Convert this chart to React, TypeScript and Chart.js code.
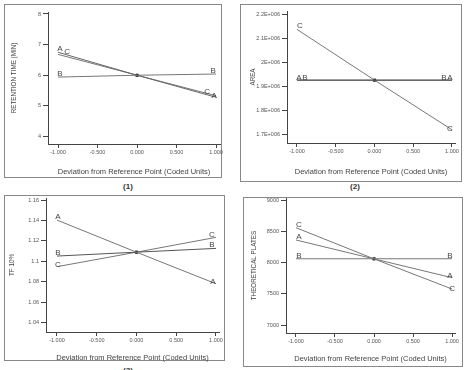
import React, { useEffect, useRef } from "react";
import { Chart, registerables } from "chart.js";
Chart.register(...registerables);

const W = 466;
const H = 370;
const FONT = 'Arial, "Liberation Sans", sans-serif';

// shared x axis
const xPoints = [-1, 0, 1];
const xTickValues = [-1, -0.5, 0, 0.5, 1];
const xTickLabels = ["-1.000", "-0.500", "0.000", "0.500", "1.000"];
const xAxisTitle = "Deviation from Reference Point (Coded Units)";

// Panel 1: retention time
const rtTitle = "RETENTION TIME (MIN)";
const rtA = [6.75, 6.0, 5.28];
const rtB = [5.94, 6.0, 6.04];
const rtC = [6.68, 6.0, 5.33];
const rtCenter = 6.0;
const rtTicks = [4, 5, 6, 7, 8];
const rtTickLabels = ["4", "5", "6", "7", "8"];

// Panel 2: area
const areaTitle = "AREA";
const areaA = [1925000, 1925000, 1925000];
const areaB = [1925000, 1925000, 1925000];
const areaC = [2136000, 1925000, 1719000];
const areaCenter = 1925000;
const areaTicks = [1700000, 1800000, 1900000, 2000000, 2100000, 2200000];
const areaTickLabels = ["1.7E+006", "1.8E+006", "1.9E+006", "2E+006", "2.1E+006", "2.2E+006"];

// Panel 3: tailing factor
const tfTitle = "TF 10%";
const tfA = [1.1404, 1.109, 1.0781];
const tfB = [1.1052, 1.109, 1.1127];
const tfC = [1.0948, 1.109, 1.1235];
const tfCenter = 1.109;
const tfTicks = [1.04, 1.06, 1.08, 1.1, 1.12, 1.14, 1.16];
const tfTickLabels = ["1.04", "1.06", "1.08", "1.1", "1.12", "1.14", "1.16"];

// Panel 4: theoretical plates
const tpTitle = "THEORETICAL PLATES";
const tpA = [8360, 8058, 7757];
const tpB = [8060, 8060, 8060];
const tpC = [8557, 8058, 7576];
const tpCenter = 8058;
const tpTicks = [7000, 7500, 8000, 8500, 9000];
const tpTickLabels = ["7000", "7500", "8000", "8500", "9000"];

type Series = { letter: string; values: number[]; color: string; lOff: number[]; rOff: number[] };

type PanelCfg = {
  name: string;
  box: { x: number; y: number; w: number; h: number };
  area: { l: number; t: number; r: number; b: number };
  xMin: number; xMax: number; yMin: number; yMax: number;
  yTitle: string; yTitleX: number; yTitleSize: number;
  xTitleY: number;
  yTicks: number[]; yTickLabels: string[];
  series: Series[];
  center: number;
  label: { x: number; y: number };
};

const panels: PanelCfg[] = [
  {
    name: "(1)",
    box: { x: 4, y: 4, w: 218, h: 174 },
    area: { l: 48, t: 12, r: 220, b: 144 },
    xMin: -1.127, xMax: 1.05, yMin: 3.755, yMax: 8.065,
    yTitle: rtTitle, yTitleX: 14, yTitleSize: 6.3,
    xTitleY: 172,
    yTicks: rtTicks, yTickLabels: rtTickLabels,
    series: [
      { letter: "A", values: rtA, color: "#666", lOff: [2, -1], rOff: [-2, 1] },
      { letter: "C", values: rtC, color: "#777", lOff: [9, 0], rOff: [-9, -2] },
      { letter: "B", values: rtB, color: "#777", lOff: [2, -1], rOff: [-3, -1] },
    ],
    center: rtCenter,
    label: { x: 128, y: 182 },
  },
  {
    name: "(2)",
    box: { x: 240, y: 4, w: 222, h: 178 },
    area: { l: 287, t: 11, r: 455, b: 143 },
    xMin: -1.129, xMax: 1.039, yMin: 1663800, yMax: 2212500,
    yTitle: areaTitle, yTitleX: 253, yTitleSize: 6.3,
    xTitleY: 172,
    yTicks: areaTicks, yTickLabels: areaTickLabels,
    series: [
      { letter: "A", values: areaA, color: "#555", lOff: [2, 0], rOff: [-2, 0] },
      { letter: "B", values: areaB, color: "#555", lOff: [8, 0], rOff: [-8, 0] },
      { letter: "C", values: areaC, color: "#777", lOff: [3, -1], rOff: [-2, 1] },
    ],
    center: areaCenter,
    label: { x: 355, y: 182 },
  },
  {
    name: "(3)",
    box: { x: 4, y: 195, w: 221, h: 166 },
    area: { l: 46, t: 198, r: 219, b: 332 },
    xMin: -1.138, xMax: 1.038, yMin: 1.0309, yMax: 1.162,
    yTitle: tfTitle, yTitleX: 12, yTitleSize: 6.3,
    xTitleY: 358,
    yTicks: tfTicks, yTickLabels: tfTickLabels,
    series: [
      { letter: "A", values: tfA, color: "#777", lOff: [1, -1], rOff: [-3, 0] },
      { letter: "B", values: tfB, color: "#555", lOff: [1, -1], rOff: [-4, -1] },
      { letter: "C", values: tfC, color: "#777", lOff: [1, 0], rOff: [-4, 0] },
    ],
    center: tfCenter,
    label: { x: 128, y: 366 },
  },
  {
    name: "(4)",
    box: { x: 243, y: 197, w: 220, h: 170 },
    area: { l: 286, t: 198, r: 455, b: 333 },
    xMin: -1.128, xMax: 1.038, yMin: 6872, yMax: 9032,
    yTitle: tpTitle, yTitleX: 254, yTitleSize: 6.3,
    xTitleY: 359,
    yTicks: tpTicks, yTickLabels: tpTickLabels,
    series: [
      { letter: "C", values: tpC, color: "#777", lOff: [3, -1], rOff: [0, 2] },
      { letter: "A", values: tpA, color: "#777", lOff: [3, -1], rOff: [-2, 0] },
      { letter: "B", values: tpB, color: "#777", lOff: [3, -1], rOff: [-2, -1] },
    ],
    center: tpCenter,
    label: { x: 358, y: 369 },
  },
];

const letterPlugin = {
  id: "endLetters",
  afterDatasetsDraw(chart: any) {
    const ctx = chart.ctx;
    const xs = chart.scales.x;
    const ys = chart.scales.y;
    ctx.save();
    ctx.font = `8px ${FONT}`;
    ctx.fillStyle = "#444";
    ctx.textAlign = "center";
    ctx.textBaseline = "alphabetic";
    chart.data.datasets.forEach((ds: any) => {
      if (!ds.letter) return;
      const pts = ds.data;
      const f = pts[0];
      const l = pts[pts.length - 1];
      ctx.fillText(ds.letter, xs.getPixelForValue(f.x) + ds.lOff[0], ys.getPixelForValue(f.y) + ds.lOff[1]);
      ctx.fillText(ds.letter, xs.getPixelForValue(l.x) + ds.rOff[0], ys.getPixelForValue(l.y) + ds.rOff[1]);
    });
    ctx.restore();
  },
};

function Panel({ cfg }: { cfg: PanelCfg }) {
  const ref = useRef<HTMLCanvasElement>(null);
  useEffect(() => {
    const c = cfg;
    const yLine = c.yTitleSize * 1.2;
    const xTitleSize = 7.5;
    const xLine = xTitleSize * 1.2;
    const yScaleLeft = c.yTitleX - yLine / 2;
    const yW = c.area.l - yScaleLeft;
    const xScaleBottom = c.xTitleY + xLine / 2;
    const xH = xScaleBottom - c.area.b;
    const datasets: any[] = c.series.map((s) => ({
      letter: s.letter,
      lOff: s.lOff,
      rOff: s.rOff,
      data: xPoints.map((x, i) => ({ x, y: s.values[i] })),
      borderColor: s.color,
      borderWidth: 1,
      pointRadius: 0,
      fill: false,
      tension: 0,
    }));
    datasets.push({
      data: [{ x: 0, y: c.center }],
      showLine: false,
      pointStyle: "rect",
      pointRadius: 1.8,
      backgroundColor: "#000",
      borderColor: "#000",
      borderWidth: 0.5,
    });
    const chart = new Chart(ref.current!, {
      type: "line",
      data: { datasets },
      options: {
        animation: false,
        responsive: false,
        layout: {
          padding: { left: yScaleLeft, top: c.area.t, right: W - c.area.r, bottom: H - xScaleBottom },
        },
        plugins: { legend: { display: false }, tooltip: { enabled: false } },
        scales: {
          x: {
            type: "linear",
            min: c.xMin,
            max: c.xMax,
            afterBuildTicks: (s: any) => {
              s.ticks = xTickValues.map((v) => ({ value: v }));
            },
            afterFit: (s: any) => {
              s.height = xH;
            },
            ticks: {
              callback: (_v: any, i: number) => xTickLabels[i],
              font: { size: 5.5, family: FONT },
              color: "#555",
              padding: 1,
              maxRotation: 0,
              autoSkip: false,
            },
            grid: { drawOnChartArea: false, drawTicks: true, tickLength: 4, color: "#444" },
            border: { display: true, color: "#444", width: 1 },
            title: { display: true, text: xAxisTitle, font: { size: xTitleSize, family: FONT }, color: "#444", padding: 0 },
          },
          y: {
            type: "linear",
            min: c.yMin,
            max: c.yMax,
            afterBuildTicks: (s: any) => {
              s.ticks = c.yTicks.map((v) => ({ value: v }));
            },
            afterFit: (s: any) => {
              s.width = yW;
            },
            ticks: {
              callback: (_v: any, i: number) => c.yTickLabels[i],
              font: { size: 5.5, family: FONT },
              color: "#555",
              padding: 2,
              autoSkip: false,
            },
            grid: { drawOnChartArea: false, drawTicks: true, tickLength: 5, color: "#444" },
            border: { display: true, color: "#444", width: 1 },
            title: { display: true, text: c.yTitle, font: { size: c.yTitleSize, family: FONT }, color: "#444", padding: 0 },
          },
        },
      } as any,
      plugins: [letterPlugin],
    });
    return () => chart.destroy();
  }, [cfg]);
  return (
    <canvas
      ref={ref}
      width={W}
      height={H}
      style={{ position: "absolute", left: 0, top: 0, width: W, height: H }}
    />
  );
}

export default function App() {
  return (
    <div
      style={{
        position: "fixed",
        left: 0,
        top: 0,
        width: W,
        height: H,
        background: "#fff",
        overflow: "hidden",
      }}
    >
      {panels.map((p) => (
        <div
          key={"box" + p.name}
          style={{
            position: "absolute",
            left: p.box.x,
            top: p.box.y,
            width: p.box.w,
            height: p.box.h,
            border: "1px solid #888",
            boxSizing: "border-box",
          }}
        />
      ))}
      {panels.map((p) => (
        <div
          key={"lbl" + p.name}
          style={{
            position: "absolute",
            left: p.label.x - 15,
            top: p.label.y,
            width: 30,
            textAlign: "center",
            font: `bold 8px ${FONT}`,
            color: "#333",
          }}
        >
          {p.name}
        </div>
      ))}
      {panels.map((p) => (
        <Panel key={p.name} cfg={p} />
      ))}
    </div>
  );
}
